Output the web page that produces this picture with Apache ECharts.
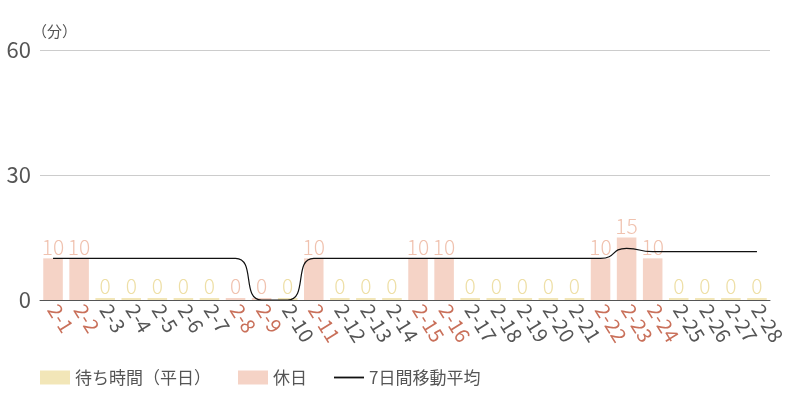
<!DOCTYPE html>
<html>
<head>
<meta charset="utf-8">
<script src="https://cdn.jsdelivr.net/npm/echarts@6/dist/echarts.min.js"></script>
<style>
    html, body { margin: 0; padding: 0; background: #fff; }
    #chart { width: 800px; height: 400px; }
</style>
</head>
<body>
<div id="chart"></div>
<script>
var categories = ['2-1', '2-2', '2-3', '2-4', '2-5', '2-6', '2-7', '2-8', '2-9', '2-10',
    '2-11', '2-12', '2-13', '2-14', '2-15', '2-16', '2-17', '2-18', '2-19', '2-20',
    '2-21', '2-22', '2-23', '2-24', '2-25', '2-26', '2-27', '2-28'];
// 休日の日付
var holidays = ['2-1', '2-2', '2-8', '2-9', '2-11', '2-15', '2-16', '2-22', '2-23', '2-24'];
var weekdayValues = [null, null, 0, 0, 0, 0, 0, null, null, 0,
    null, 0, 0, 0, null, null, 0, 0, 0, 0,
    0, null, null, null, 0, 0, 0, 0];
var holidayValues = [10, 10, null, null, null, null, null, 0, 0, null,
    10, null, null, null, 10, 10, null, null, null, null,
    null, 10, 15, 10, null, null, null, null];
var movingAvg = [10, 10, 10, 10, 10, 10, 10, 10, 0, 0,
    10, 10, 10, 10, 10, 10, 10, 10, 10, 10,
    10, 10, 12.4, 11.6, 11.6, 11.6, 11.6, 11.6];
var yTicks = [0, 30, 60];

var numFont = "'Noto Sans CJK JP', sans-serif";
var jpFont = "'Noto Sans CJK JP', sans-serif";

var chart = echarts.init(document.getElementById('chart'));
var option = {
    animation: false,
    grid: { left: 40, right: 30, top: 50, bottom: 100 },
    legend: {
        left: 40,
        top: 369,
        padding: 0,
        itemWidth: 30,
        itemHeight: 14,
        itemGap: 27,
        textStyle: { fontSize: 17, color: '#555', fontFamily: jpFont },
        data: [
            { name: '待ち時間（平日）', icon: 'rect' },
            { name: '休日', icon: 'rect' },
            // 線だけのアイコン
            { name: '7日間移動平均', icon: 'path://M0,0 L100,0 L100,6 L0,6 Z' }
        ]
    },
    xAxis: {
        type: 'category',
        data: categories,
        axisLine: { lineStyle: { color: '#555', width: 1 } },
        axisTick: { show: false },
        axisLabel: {
            interval: 0,
            rotate: -58,
            margin: 6,
            fontSize: 20,
            fontFamily: numFont,
            color: function(v) {
                return holidays.indexOf(v) >= 0 ? '#c9705a' : '#555';
            }
        }
    },
    yAxis: {
        type: 'value',
        min: 0,
        max: yTicks[yTicks.length - 1],
        interval: 30,
        name: '（分）',
        nameLocation: 'end',
        nameGap: 10,
        nameTextStyle: { color: '#555', fontSize: 15, fontFamily: jpFont, align: 'left', padding: [0, 0, 0, -8] },
        axisLine: { show: false },
        axisTick: { show: false },
        axisLabel: { fontSize: 22, color: '#555', fontFamily: numFont, margin: 9 },
        splitLine: { lineStyle: { color: '#ccc' } }
    },
    series: [
        {
            name: '待ち時間（平日）',
            type: 'bar',
            data: weekdayValues,
            barWidth: '75%',
            barGap: '-100%',
            barMinHeight: 2,
            itemStyle: { color: '#f2e6b8' },
            label: {
                show: true,
                position: 'top',
                distance: 1,
                fontSize: 21,
                fontWeight: 300,
                fontFamily: numFont,
                color: '#eedfa6'
            }
        },
        {
            name: '休日',
            type: 'bar',
            data: holidayValues,
            barWidth: '75%',
            barGap: '-100%',
            barMinHeight: 2,
            itemStyle: { color: '#f5d3c6' },
            label: {
                show: true,
                position: 'top',
                distance: 1,
                fontSize: 21,
                fontWeight: 300,
                fontFamily: numFont,
                color: '#f0c2af'
            }
        },
        {
            name: '7日間移動平均',
            type: 'line',
            data: movingAvg,
            smooth: 0.6,
            symbol: 'none',
            lineStyle: { color: '#111', width: 1.2 },
            itemStyle: { color: '#111' }
        }
    ]
};
chart.setOption(option);
</script>
</body>
</html>
